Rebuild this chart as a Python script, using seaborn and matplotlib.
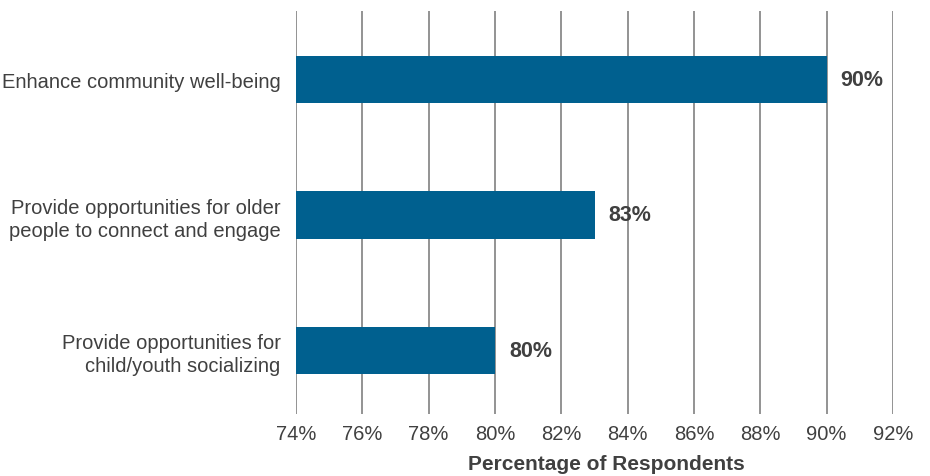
import matplotlib
matplotlib.use("Agg")
import matplotlib.pyplot as plt
import seaborn as sns
import pandas as pd

categories = [
    "Enhance community well-being",
    "Provide opportunities for older\npeople to connect and engage",
    "Provide opportunities for\nchild/youth socializing",
]
values = [90, 83, 80]
tick_values = [74, 76, 78, 80, 82, 84, 86, 88, 90, 92]
tick_labels = [f"{v}%" for v in tick_values]

df = pd.DataFrame({"category": categories, "value": values})

sns.set_theme(style="white")
plt.rcParams["font.family"] = ["Liberation Sans", "DejaVu Sans"]

text_color = "#404040"
grid_color = "#8a8a8a"
bar_color = "#00608f"

fig = plt.figure(figsize=(9.3, 4.77), dpi=100)
ax = fig.add_axes([296 / 930, 1 - 415 / 477, (893 - 296) / 930, (415 - 12) / 477])

sns.barplot(data=df, x="value", y="category", color=bar_color, width=0.35,
            saturation=1, ax=ax, zorder=3, edgecolor="none")

ax.set_xlim(74, 92)
ax.set_ylim(2.47, -0.505)
ax.set_xticks(tick_values)
ax.set_xticklabels(tick_labels)
for v in tick_values:
    ax.axvline(v, color=grid_color, lw=1.3, zorder=1)

for s in ["top", "right", "bottom", "left"]:
    ax.spines[s].set_visible(False)

ax.tick_params(axis="both", length=0, colors=text_color)
ax.tick_params(axis="x", labelsize=14.5, pad=7)
ax.tick_params(axis="y", labelsize=14.5, pad=11)
for lbl in ax.get_yticklabels():
    lbl.set_horizontalalignment("right")
    lbl.set_linespacing(1.25)

ax.set_ylabel("")
ax.set_xlabel("Percentage of Respondents", fontsize=15, fontweight="bold",
              color=text_color, va="center")
ax.xaxis.set_label_coords(0.52, -0.124)

ax.bar_label(ax.containers[0], labels=[f"{v}%" for v in values], padding=10,
             fontsize=15.5, fontweight="bold", color=text_color)

fig.savefig("out.png", dpi=100)
